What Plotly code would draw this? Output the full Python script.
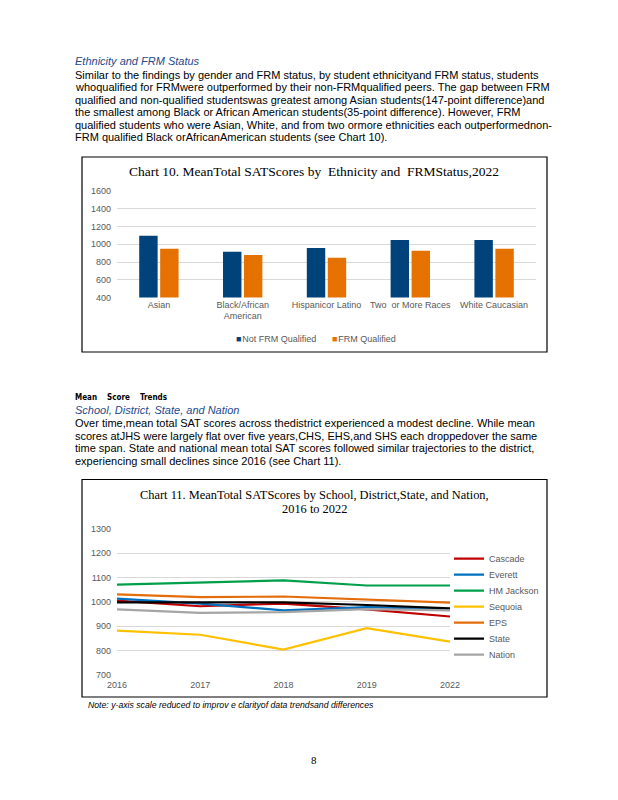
import plotly.graph_objects as go

W, H = 618, 800

# ---------------- Data ----------------
eth_categories = ["Asian", "Black/African<br>American", "Hispanicor Latino", "Two  or More Races", "White Caucasian"]
not_frm = [1095, 915, 959, 1048, 1048]
frm = [948, 880, 848, 926, 948]

years = ["2016", "2017", "2018", "2019", "2022"]
cascade = [1005, 982, 993, 969, 940]
everett = [1013, 993, 965, 978, 969]
hm_jackson = [1071, 1079, 1088, 1067, 1067]
sequoia = [882, 865, 804, 892, 837]
eps = [1031, 1019, 1022, 1010, 997]
state = [998, 998, 998, 987, 973]
nation = [969, 955, 958, 970, 965]

y10_ticks = [400, 600, 800, 1000, 1200, 1400, 1600]
y11_ticks = [700, 800, 900, 1000, 1100, 1200, 1300]

def fx(x):
    return x / W

def fy(y):
    return 1 - y / H

BODY = "Liberation Sans, Arial, sans-serif"
SERIF = "Liberation Serif, Times New Roman, serif"
TICK = "#595959"
GRID = "#D9D9D9"
SUBHEAD = "#244A8C"
BLUE10 = "#00427A"
ORANGE10 = "#E57200"

fig = go.Figure()

# Chart 10 bars
fig.add_trace(go.Bar(x=eth_categories, y=not_frm, name="Not FRM Qualified",
                     marker_color=BLUE10, xaxis="x", yaxis="y", showlegend=False))
fig.add_trace(go.Bar(x=eth_categories, y=frm, name="FRM Qualified",
                     marker_color=ORANGE10, xaxis="x", yaxis="y", showlegend=False))
# legend entries for chart 10 (small square swatch in the label)
fig.add_trace(go.Scatter(x=[None], y=[None], mode="markers",
                         name="<span style='color:%s'>■</span>\u200aNot FRM Qualified" % BLUE10,
                         marker=dict(size=1, color="rgba(0,0,0,0)"),
                         xaxis="x", yaxis="y", legend="legend"))
fig.add_trace(go.Scatter(x=[None], y=[None], mode="markers",
                         name="<span style='color:%s'>■</span>\u200aFRM Qualified" % ORANGE10,
                         marker=dict(size=1, color="rgba(0,0,0,0)"),
                         xaxis="x", yaxis="y", legend="legend9"))

# Chart 11 lines
series = [
    ("Cascade", cascade, "#C00000"),
    ("Everett", everett, "#0070C0"),
    ("HM Jackson", hm_jackson, "#00A04A"),
    ("Sequoia", sequoia, "#FFC000"),
    ("EPS", eps, "#E46C0A"),
    ("State", state, "#000000"),
    ("Nation", nation, "#A5A5A5"),
]
for i, (name, vals, col) in enumerate(series):
    fig.add_trace(go.Scatter(x=years, y=vals, mode="lines", name=name,
                             line=dict(color=col, width=2.2),
                             xaxis="x2", yaxis="y2", legend="legend%d" % (i + 2)))

annotations = []

def txt(x, y, s, size=11, color="#000000", family=BODY, anchor="left", italic=False, bold=False):
    if italic:
        s = "<i>" + s + "</i>"
    if bold:
        s = "<b>" + s + "</b>"
    annotations.append(dict(x=fx(x), y=fy(y), xref="paper", yref="paper", text=s,
                            showarrow=False, xanchor=anchor, yanchor="middle",
                            font=dict(size=size, color=color, family=family)))

# Section 1 text
txt(73, 61, "Ethnicity and FRM Status", size=11, color=SUBHEAD, italic=True)
para1 = [
    "Similar to the findings by gender and FRM status, by student ethnicityand FRM status, students",
    "whoqualified for FRMwere outperformed by their non-FRMqualified peers. The gap between FRM",
    "qualified and non-qualified studentswas greatest among Asian students(147-point difference)and",
    "the smallest among Black or African American students(35-point difference). However, FRM",
    "qualified students who were Asian, White, and from two ormore ethnicities each outperformednon-",
    "FRM qualified Black orAfricanAmerican students (see Chart 10).",
]
ys1 = [74.5, 87, 99.5, 112, 124.7, 137.3]
for s, y in zip(para1, ys1):
    txt(73, y, s, size=11)

# Section 2 text
CON = "DejaVu Sans Condensed, DejaVu Sans"
txt(73, 397, "Mean", size=8, family=CON, bold=True)
txt(105, 397, "Score", size=8, family=CON, bold=True)
txt(138, 397, "Trends", size=8, family=CON, bold=True)
txt(73, 410, "School, District, State, and Nation", size=11, color=SUBHEAD, italic=True)
para2 = [
    "Over time,mean total SAT scores across thedistrict experienced a modest decline. While mean",
    "scores atJHS were largely flat over five years,CHS, EHS,and SHS each droppedover the same",
    "time span. State and national mean total SAT scores followed similar trajectories to the district,",
    "experiencing small declines since 2016 (see Chart 11).",
]
ys2 = [423, 435.7, 448.3, 461.3]
for s, y in zip(para2, ys2):
    txt(73, y, s, size=11)

# Chart titles
txt(314, 171, "Chart 10. MeanTotal SATScores by  Ethnicity and  FRMStatus,2022", size=13.5,
    family=SERIF, anchor="center")
txt(314, 495, "Chart 11. MeanTotal SATScores by School, District,State, and Nation,", size=12.4,
    family=SERIF, anchor="center")
txt(314, 508.5, "2016 to 2022", size=12.4, family=SERIF, anchor="center")

# Note and page number
txt(86, 705, "Note: y-axis scale reduced to improv e clarityof data trendsand differences", size=8.7,
    italic=True)
txt(314, 760, "8", size=11, family=SERIF, anchor="center")

shapes = [
    dict(type="rect", xref="paper", yref="paper", x0=fx(82), x1=fx(547), y0=fy(352), y1=fy(157),
         line=dict(color="#000000", width=1.2), fillcolor="rgba(0,0,0,0)", layer="above"),
    dict(type="rect", xref="paper", yref="paper", x0=fx(82), x1=fx(547), y0=fy(697), y1=fy(479.5),
         line=dict(color="#000000", width=1.2), fillcolor="rgba(0,0,0,0)", layer="above"),
]

axis_font = dict(size=9, color=TICK, family=BODY)
leg_font = dict(size=9, color=TICK, family=BODY)

layout = dict(
    template="none",
    width=W, height=H,
    margin=dict(l=0, r=0, t=0, b=0, pad=0, autoexpand=False),
    paper_bgcolor="white", plot_bgcolor="white",
    font=dict(family=BODY, color="#000000"),
    barmode="group", bargap=0.5, bargroupgap=0.12,
    showlegend=True,
    annotations=annotations,
    shapes=shapes,
    xaxis=dict(domain=[fx(117), fx(536)], anchor="y", showgrid=False, showline=False,
               zeroline=False, ticks="", tickfont=axis_font, tickangle=0, automargin=False),
    yaxis=dict(domain=[fy(297.5), fy(191)], anchor="x", range=[400, 1600], tickvals=y10_ticks,
               showgrid=True, gridcolor=GRID, gridwidth=1, zeroline=False, showline=False,
               ticks="", tickfont=axis_font, ticklabelstandoff=5, automargin=False),
    xaxis2=dict(domain=[fx(117), fx(450)], anchor="y2", type="category", showgrid=False,
                showline=False, zeroline=False, ticks="", tickfont=axis_font, automargin=False,
                ticklabelstandoff=3),
    yaxis2=dict(domain=[fy(675), fy(528.7)], anchor="x2", range=[700, 1300], tickvals=y11_ticks,
                showgrid=True, gridcolor=GRID, gridwidth=1, zeroline=False, showline=False,
                ticks="", tickfont=axis_font, ticklabelstandoff=5, automargin=False),
)

# chart 10 legend: two single-item legends
layout["legend"] = dict(orientation="h", x=fx(236 - 40), xanchor="left", y=fy(338),
                        yanchor="middle", font=leg_font, bgcolor="rgba(0,0,0,0)",
                        itemwidth=30, borderwidth=0)
layout["legend9"] = dict(orientation="h", x=fx(332 - 40), xanchor="left", y=fy(338),
                         yanchor="middle", font=leg_font, bgcolor="rgba(0,0,0,0)",
                         itemwidth=30, borderwidth=0)
# chart 11 legends: one per series, spaced as in the original
for i in range(len(series)):
    layout["legend%d" % (i + 2)] = dict(orientation="v", x=fx(449), xanchor="left",
                                        y=fy(558.7 + 16 * i), yanchor="middle",
                                        font=leg_font, bgcolor="rgba(0,0,0,0)",
                                        itemwidth=30, borderwidth=0)

fig.update_layout(**layout)

fig.write_html("out.html",
               config={"displayModeBar": False},
               post_script="document.body.style.margin='0';document.body.style.padding='0';")
